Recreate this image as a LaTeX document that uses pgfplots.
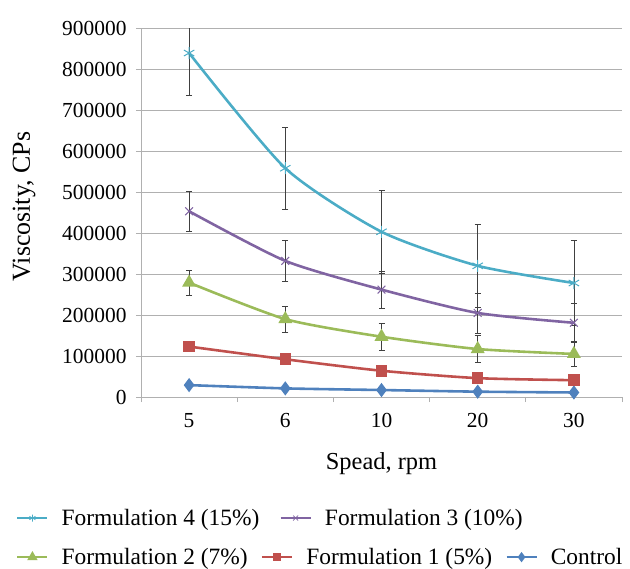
\documentclass[border=0pt]{standalone}
\usepackage{pgfplots}
\pgfplotsset{compat=1.18}
\usepackage{fontspec}
\setmainfont{Liberation Serif}
\definecolor{cF4}{HTML}{4BACC6}
\definecolor{cF3}{HTML}{8064A2}
\definecolor{cF2}{HTML}{9BBB59}
\definecolor{cF1}{HTML}{C0504D}
\definecolor{cC}{HTML}{4F81BD}
\definecolor{gridc}{HTML}{B0B0B0}
\definecolor{errc}{HTML}{404040}
\pgfplotsset{
  myleg/.style={
    legend image code/.code={\draw[mark repeat=2,mark phase=2,##1] plot coordinates {(0bp,0bp) (15bp,0bp) (30bp,0bp)};},
    legend style={draw=none, fill=none, font=\fontsize{23.5}{27}\selectfont,
      inner sep=0pt, row sep=0pt,
      nodes={inner sep=0pt},
      /tikz/every odd column/.append style={column sep=13bp},
      /tikz/every even column/.append style={column sep=13bp}},
    legend cell align=left,
  },
}
\begin{document}
\begin{tikzpicture}
\begin{axis}[name=ax,
  scale only axis, width=481bp, height=369bp,
  xmin=-0.5, xmax=4.5, ymin=0, ymax=900000,
  xtick={-0.5,0.5,1.5,2.5,3.5,4.5},
  x tick label as interval,
  xticklabels={5,6,10,20,30},
  ytick={0,100000,...,900000},
  scaled y ticks=false,
  /pgf/number format/fixed, /pgf/number format/1000 sep={},
  /pgf/number format/assume math mode=true,
  ticklabel style={font=\fontsize{21.5}{25}\selectfont},
  xticklabel style={yshift=-8bp},
  yticklabel style={xshift=-6bp},
  axis x line=bottom, axis y line=left,
  axis line style={-, draw=gridc, line width=0.8pt},
  tick style={draw=gridc, line width=0.8pt},
  tick align=outside, major tick length=5bp,
  ymajorgrids, grid style={draw=gridc, line width=0.8pt},
  xlabel={Spead, rpm}, ylabel={Viscosity, CPs},
  xlabel style={font=\fontsize{24.5}{28}\selectfont, yshift=-18bp},
  ylabel style={font=\fontsize{26}{30}\selectfont, yshift=20bp, xshift=6bp},
  clip=true,
  error bars/error bar style={draw=errc, line width=0.6pt},
  error bars/error mark options={draw=errc, rotate=90, mark size=3bp, line width=0.6pt},
  myleg,
  legend columns=3,
  legend style={at={(-0.260,-0.434)}, anchor=west},
]
\addplot[forget plot, color=cC, line width=2.6pt, smooth, tension=0.4, mark=diamond*, mark size=5bp, mark options={solid}]
coordinates {(0,29000) (1,21000) (2,17000) (3,13000) (4,11000)};
\addplot[forget plot, color=cF1, line width=2.6pt, smooth, tension=0.4, mark=square*, mark size=4.5bp]
coordinates {(0,123000) (1,92000) (2,64000) (3,46000) (4,41000)};
\addplot[forget plot, color=cF2, line width=2.6pt, smooth, tension=0.4, mark=triangle*, mark size=5.5bp,
  error bars/.cd, y dir=both, y explicit]
coordinates {(0,279000) +- (0,31000) (1,190000) +- (0,31000) (2,147000) +- (0,32000) (3,117000) +- (0,33000) (4,105000) +- (0,31000)};
\addplot[forget plot, color=cF3, line width=2.6pt, smooth, tension=0.4, mark=x, mark size=5.5bp, mark options={line width=1pt},
  error bars/.cd, y dir=both, y explicit]
coordinates {(0,453000) +- (0,49000) (1,332000) +- (0,50000) (2,262000) +- (0,45000) (3,205000) +- (0,49000) (4,181000) +- (0,48000)};
\addplot[forget plot, color=cF4, line width=2.6pt, smooth, tension=0.4, mark=asterisk, mark size=6bp, mark options={line width=1pt},
  error bars/.cd, y dir=both, y explicit]
coordinates {(0,839000) +- (0,102000) (1,558000) +- (0,101000) (2,403000) +- (0,102000) (3,320000) +- (0,102000) (4,278000) +- (0,103000)};
\addlegendimage{color=cF2, line width=2.6pt, mark=triangle*, mark size=3.5bp}
\addlegendentry{Formulation 2 (7\%)}
\addlegendimage{color=cF1, line width=2.6pt, mark=square*, mark size=3bp}
\addlegendentry{Formulation 1 (5\%)}
\addlegendimage{color=cC, line width=2.6pt, mark=diamond*, mark size=3bp}
\addlegendentry{Control}
\end{axis}
\begin{axis}[at={(ax.south west)}, anchor=south west,
  scale only axis, width=481bp, height=369bp, hide axis,
  xmin=0, xmax=1, ymin=0, ymax=1,
  myleg, legend columns=2,
  legend style={at={(-0.260,-0.328)}, anchor=west,
    /tikz/every even column/.append style={column sep=20bp}},
]
\addlegendimage{color=cF4, line width=2.6pt, mark=asterisk, mark size=3.5bp, mark options={line width=0.7pt}}
\addlegendentry{Formulation 4 (15\%)}
\addlegendimage{color=cF3, line width=2.6pt, mark=x, mark size=3.5bp, mark options={line width=0.7pt}}
\addlegendentry{Formulation 3 (10\%)}
\end{axis}
\path (ax.south west) ++(-141bp,-172bp) rectangle ++(630bp,569bp);
\end{tikzpicture}
\end{document}
